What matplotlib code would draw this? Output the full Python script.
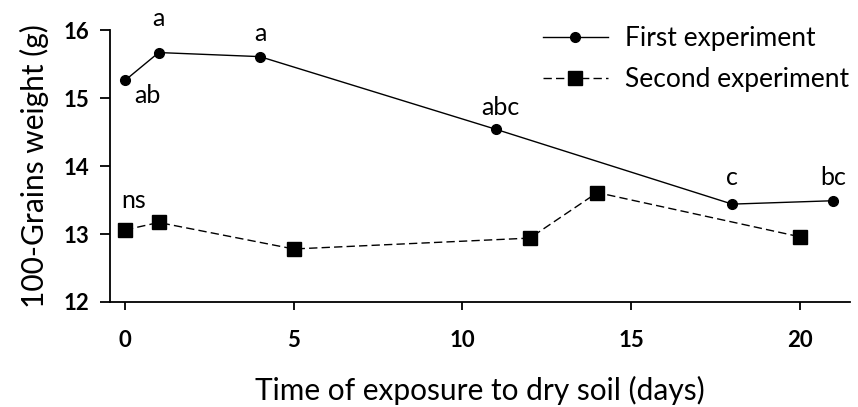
import matplotlib.pyplot as plt

plt.rcParams['font.family'] = ['Lato', 'DejaVu Sans']

days1 = [0, 1, 4, 11, 18, 21]
weight1 = [15.26, 15.67, 15.61, 14.54, 13.44, 13.49]
letters1 = ['ab', 'a', 'a', 'abc', 'c', 'bc']
# label offsets (points) from each marker
offsets1 = [(7, -16), (0, 19), (0, 11), (3, 10), (0, 14), (0, 11.5)]

days2 = [0, 1, 5, 12, 14, 20]
weight2 = [13.06, 13.17, 12.78, 12.94, 13.61, 12.96]

fig = plt.figure(figsize=(8.58, 4.07), dpi=100)
ax = fig.add_axes([0.128, 0.258, 0.863, 0.668])

ax.plot(days1, weight1, 'k-', marker='o', ms=7, lw=1, label='First experiment')
ax.plot(days2, weight2, 'k--', marker='s', ms=9.5, lw=1, dashes=(6, 3),
        label='Second experiment')

for d, w, t, off in zip(days1, weight1, letters1, offsets1):
    ha = 'left' if off[1] < 0 else 'center'
    ax.annotate(t, (d, w), xytext=off, textcoords='offset points',
                ha=ha, va='baseline', fontsize=18)
ax.annotate('ns', (days2[0], weight2[0]), xytext=(6, 16), textcoords='offset points',
            ha='center', va='baseline', fontsize=18)

ax.set_xlim(-0.45, 21.5)
ax.set_ylim(12, 16)
ax.set_xticks([0, 5, 10, 15, 20])
ax.set_yticks([12, 13, 14, 15, 16])
ax.spines['top'].set_visible(False)
ax.spines['right'].set_visible(False)
ax.spines['left'].set_linewidth(1.3)
ax.spines['bottom'].set_linewidth(1.3)
ax.tick_params(direction='out', width=1.3, labelsize=16)
ax.tick_params(axis='y', length=7, pad=8)
ax.tick_params(axis='x', length=6, pad=14)
for lab in ax.get_xticklabels() + ax.get_yticklabels():
    lab.set_fontweight('bold')

ax.set_xlabel('Time of exposure to dry soil (days)', fontsize=21.5, labelpad=18)
ax.set_ylabel('100-Grains weight (g)', fontsize=21.5, labelpad=10)

ax.legend(loc='upper left', frameon=False, fontsize=19, handlelength=2.46,
          handletextpad=0.65, labelspacing=0.6, borderpad=0, borderaxespad=0,
          bbox_to_anchor=(543 / 858, 1 - 26 / 407), bbox_transform=fig.transFigure)

plt.savefig('out.png')
